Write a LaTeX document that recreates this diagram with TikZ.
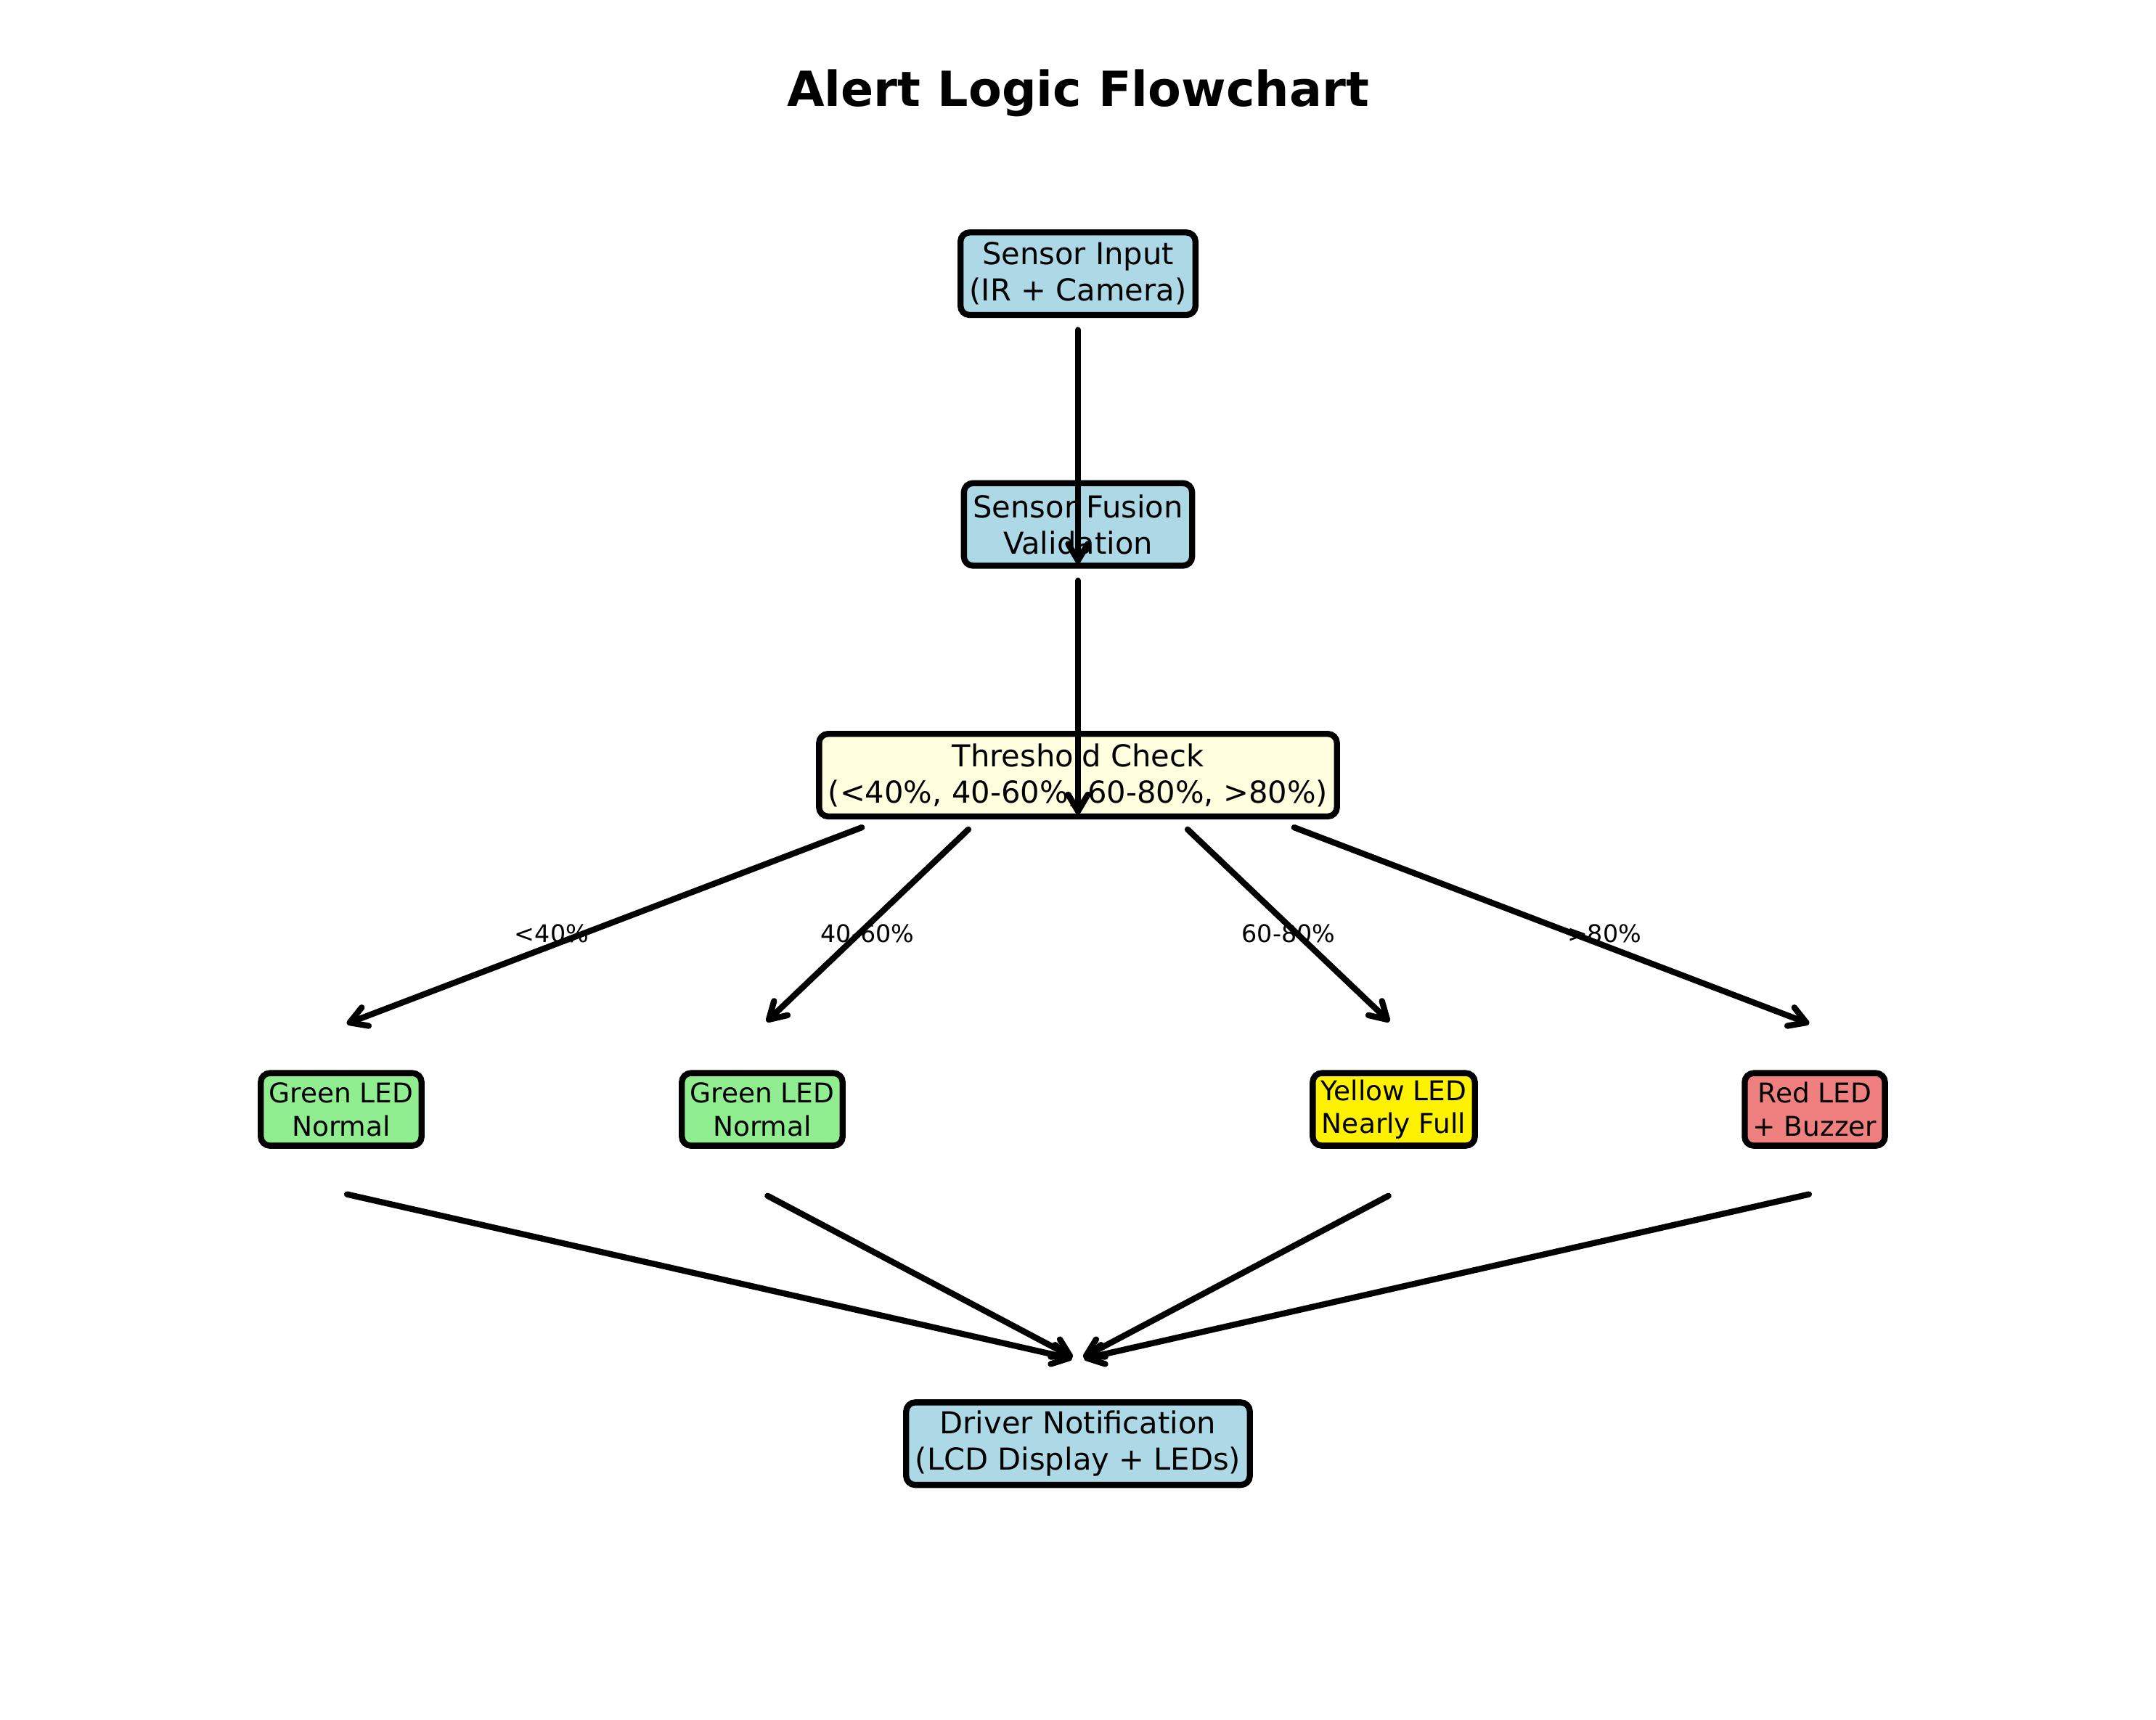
\documentclass[tikz,border=0pt]{standalone}
\usepackage{fontspec}
\setmainfont{DejaVu Sans}
\usetikzlibrary{calc,arrows.meta}

\definecolor{lightblue}{HTML}{ADD8E6}
\definecolor{lightyellow}{HTML}{FFFFE0}
\definecolor{lightgreen}{HTML}{90EE90}
\definecolor{lightcoral}{HTML}{F08080}

\begin{document}
\begin{tikzpicture}[x=69.6pt,y=55.27pt,
  box/.style={draw=black,line width=2pt,rounded corners=3pt,align=center,inner xsep=3pt,inner ysep=1pt,minimum height=27.3pt,font=\fontsize{10}{12}\selectfont},
  ledbox/.style={box,inner xsep=2.7pt,inner ysep=0.5pt,minimum height=24pt,font=\fontsize{9}{11}\selectfont},
  flow/.style={line width=2pt,line cap=round,-{Straight Barb[round,length=5.5pt,width=6.5pt]},shorten <=2pt,shorten >=2pt},
  tag/.style={font=\fontsize{8}{9.6}\selectfont}]
  \useasboundingbox (-0.1207,0.347) rectangle (10.1207,10.638);
  \node[anchor=base,font=\fontsize{16}{19.2}\selectfont\bfseries] (title) at (5,10) {Alert Logic Flowchart};

  % main chain
  \node[box,fill=lightblue] (input) at (5,9) {Sensor Input\\(IR + Camera)};
  \node[box,fill=lightblue] (fusion) at (5,7.5) {Sensor Fusion\\Validation};
  \node[box,fill=lightyellow] (check) at (5,6) {Threshold Check\\(<40\%, 40-60\%, 60-80\%, >80\%)};

  % alert levels
  \node[ledbox,fill=lightgreen] (ledlow) at (1.5,4) {Green LED\\Normal};
  \node[ledbox,fill=lightgreen] (ledmid) at (3.5,4) {Green LED\\Normal};
  \node[ledbox,fill=yellow] (ledhigh) at (6.5,4) {Yellow LED\\Nearly Full};
  \node[ledbox,fill=lightcoral] (ledfull) at (8.5,4) {Red LED\\+ Buzzer};
  \node[box,fill=lightblue] (driver) at (5,2) {Driver Notification\\(LCD Display + LEDs)};

  \node[tag] (lowtag) at (2.5,5.05) {<40\%};
  \node[tag] (midtag) at (4,5.05) {40-60\%};
  \node[tag] (hightag) at (6,5.05) {60-80\%};
  \node[tag] (fulltag) at (7.5,5.05) {>80\%};

  \draw[flow] ($(input.center)+(0,-0.3)$) -- ($(fusion.center)+(0,-0.27)$);
  \draw[flow] ($(fusion.center)+(0,-0.3)$) -- ($(check.center)+(0,-0.27)$);

  \draw[flow] ($(check.center)+(-1,-0.3)$) -- ($(ledlow.center)+(0,0.5)$);
  \draw[flow] ($(check.center)+(-0.5,-0.3)$) -- ($(ledmid.center)+(0,0.5)$);
  \draw[flow] ($(check.center)+(0.5,-0.3)$) -- ($(ledhigh.center)+(0,0.5)$);
  \draw[flow] ($(check.center)+(1,-0.3)$) -- ($(ledfull.center)+(0,0.5)$);

  \draw[flow] ($(ledlow.center)+(0,-0.5)$) -- ($(driver.center)+(0,0.5)$);
  \draw[flow] ($(ledmid.center)+(0,-0.5)$) -- ($(driver.center)+(0,0.5)$);
  \draw[flow] ($(ledhigh.center)+(0,-0.5)$) -- ($(driver.center)+(0,0.5)$);
  \draw[flow] ($(ledfull.center)+(0,-0.5)$) -- ($(driver.center)+(0,0.5)$);
\end{tikzpicture}
\end{document}
